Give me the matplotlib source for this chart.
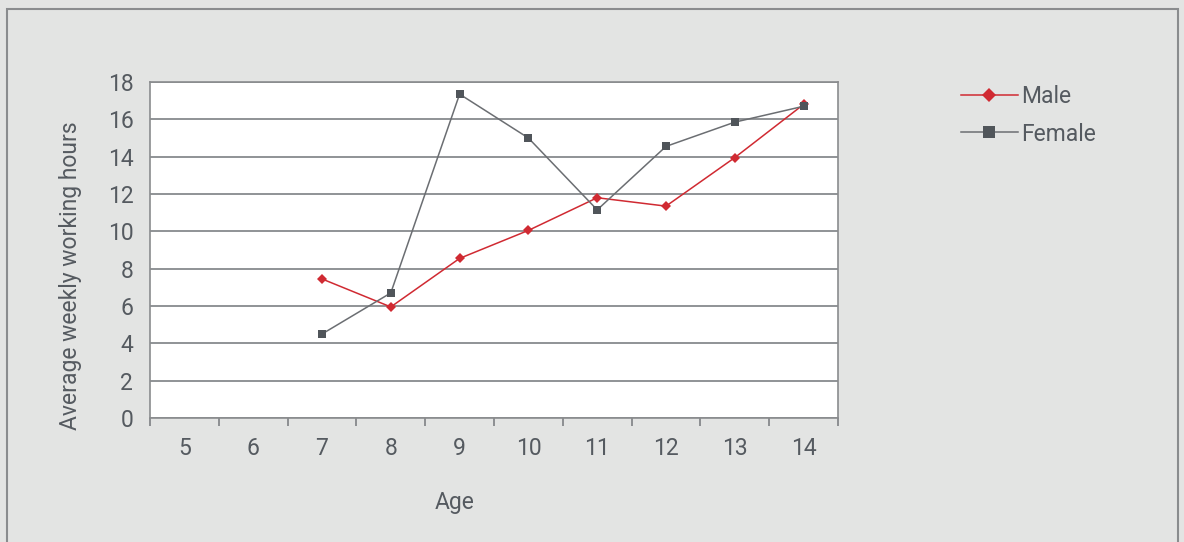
import numpy as np
import matplotlib.pyplot as plt
from matplotlib.patches import Rectangle

plt.rcParams['font.family'] = ['Roboto', 'DejaVu Sans']

# data
ages = ['5', '6', '7', '8', '9', '10', '11', '12', '13', '14']
male = [np.nan, np.nan, 7.45, 5.95, 8.55, 10.05, 11.8, 11.35, 13.95, 16.8]
female = [np.nan, np.nan, 4.5, 6.7, 17.35, 15.0, 11.15, 14.55, 15.85, 16.7]
yticks = [0, 2, 4, 6, 8, 10, 12, 14, 16, 18]

bg = '#e3e4e3'
txt = '#555a60'
grid_c = '#7d8084'

fig = plt.figure(figsize=(11.84, 5.42), dpi=100, facecolor=bg)
# outer frame
fig.patches.append(Rectangle((7 / 1184, -0.05), 1171 / 1184, 1.05 - 9 / 542,
                             transform=fig.transFigure, fill=False,
                             edgecolor='#8a8c8e', lw=1.5))

ax = fig.add_axes([150 / 1184, 1 - 418 / 542, 688 / 1184, 336 / 542])
ax.set_facecolor('white')

x = np.arange(len(ages))
ax.plot(x, male, color='#d02a32', lw=1.1, marker='D', ms=5,
        markeredgewidth=0, label='Male', zorder=3)
ax.plot(x, female, color='#6b6e72', lw=1.1, marker='s', ms=6,
        markerfacecolor='#50555a', markeredgewidth=0, label='Female', zorder=3)

ax.set_xlim(-0.5, len(ages) - 0.5)
ax.set_ylim(0, 18)
ax.set_yticks(yticks)
ax.set_yticklabels([str(v) for v in yticks])
ax.set_xticks(x)
ax.set_xticklabels(ages)
ax.set_xticks(np.arange(-0.5, len(ages), 1), minor=True)
ax.tick_params(axis='x', which='major', length=0, pad=14, labelsize=16.5, labelcolor=txt)
ax.tick_params(axis='x', which='minor', length=6, width=1.2, color=grid_c, direction='out')
ax.tick_params(axis='y', length=0, pad=12, labelsize=16.5, labelcolor=txt)

ax.grid(axis='y', color=grid_c, lw=1.2)
ax.set_axisbelow(True)
for s in ax.spines.values():
    s.set_color('#8a8c8e')
    s.set_linewidth(1.2)

# axis titles, placed where they sit in the original
ax.set_xlabel('Age', fontsize=16.5, color=txt)
ax.xaxis.label.set_va('center')
ax.xaxis.set_label_coords(0.443, -(503 - 418) / 336)
ax.set_ylabel('Average weekly working hours', fontsize=16.5, color=txt)
ax.yaxis.set_label_coords(-(150 - 70) / 688, 0.423)
ax.yaxis.label.set_va('center')

ax.legend(loc='upper left', bbox_to_anchor=(940 / 1184, 1 - 64 / 542),
          bbox_transform=fig.transFigure, frameon=False, fontsize=16.5,
          labelcolor=txt, handlelength=2.5, handletextpad=0.15,
          labelspacing=0.65, markerscale=1.5)

fig.savefig('out.png', dpi=100, facecolor=bg)
